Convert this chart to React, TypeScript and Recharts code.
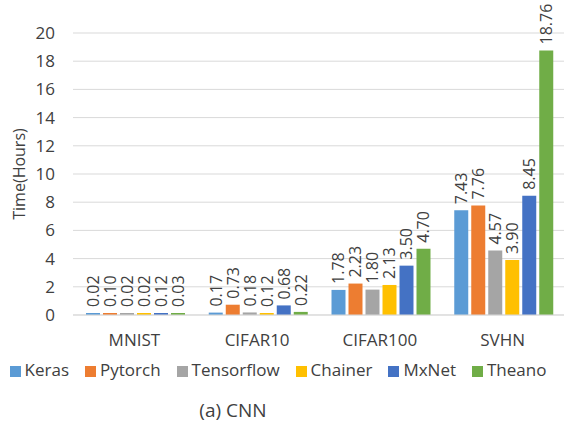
import { BarChart, Bar, XAxis, YAxis, CartesianGrid, Legend, LabelList } from "recharts"

const datasets = ["MNIST", "CIFAR10", "CIFAR100", "SVHN"]
const keras = [0.02, 0.17, 1.78, 7.43]
const pytorch = [0.1, 0.73, 2.23, 7.76]
const tensorflow = [0.02, 0.18, 1.8, 4.57]
const chainer = [0.02, 0.12, 2.13, 3.9]
const mxnet = [0.12, 0.68, 3.5, 8.45]
const theano = [0.03, 0.22, 4.7, 18.76]
const yTicks = [0, 2, 4, 6, 8, 10, 12, 14, 16, 18, 20]

const series = [
  { key: "Keras", values: keras, color: "#5B9BD5" },
  { key: "Pytorch", values: pytorch, color: "#ED7D31" },
  { key: "Tensorflow", values: tensorflow, color: "#A5A5A5" },
  { key: "Chainer", values: chainer, color: "#FFC000" },
  { key: "MxNet", values: mxnet, color: "#4472C4" },
  { key: "Theano", values: theano, color: "#70AD47" },
]

const data = datasets.map((name, i) => {
  const row: Record<string, string | number> = { name }
  series.forEach((s) => {
    row[s.key] = s.values[i]
  })
  return row
})

const textColor = "#404040"

const BarValue = (props: any) => {
  const { x, y, width, value } = props
  const cx = Number(x) + Number(width) / 2
  const cy = Number(y) - 6
  return (
    <text
      x={cx}
      y={cy}
      transform={`rotate(-90 ${cx} ${cy})`}
      textAnchor="start"
      dominantBaseline="central"
      fontSize={16}
      fill={textColor}
    >
      {Number(value).toFixed(2)}
    </text>
  )
}

const AxisTitle = (props: any) => {
  const { viewBox } = props
  const cx = viewBox.x + 19
  const cy = viewBox.y + viewBox.height / 2
  return (
    <text
      x={cx}
      y={cy}
      transform={`rotate(-90 ${cx} ${cy})`}
      textAnchor="middle"
      dominantBaseline="central"
      fontSize={16}
      fill={textColor}
    >
      Time(Hours)
    </text>
  )
}

const seriesOrder = (item: any) => series.findIndex((s) => s.key === item.value)

export default function App() {
  return (
    <div
      style={{
        position: "absolute",
        left: 0,
        top: 0,
        width: 564,
        height: 423,
        background: "#fff",
        fontFamily: "'Open Sans', sans-serif",
      }}
    >
      <BarChart
        width={564}
        height={423}
        data={data}
        margin={{ top: 33, right: 0, left: 0, bottom: 42 }}
        barCategoryGap={13}
        barGap={3}
      >
        <CartesianGrid vertical={false} stroke="#D9D9D9" />
        <XAxis
          dataKey="name"
          axisLine={{ stroke: "#D9D9D9" }}
          tickLine={false}
          tickSize={0}
          tickMargin={19}
          height={43}
          tick={{ fill: textColor, fontSize: 17 }}
        />
        <YAxis
          domain={[0, 20]}
          ticks={yTicks}
          width={73}
          axisLine={false}
          tickLine={false}
          tickSize={0}
          tickMargin={18}
          tick={{ fill: textColor, fontSize: 17 }}
          label={<AxisTitle />}
        />
        <Legend
          verticalAlign="bottom"
          iconType="square"
          iconSize={11}
          itemSorter={seriesOrder}
          wrapperStyle={{ fontSize: 17, paddingLeft: 4 }}
          formatter={(value) => <span style={{ color: textColor, marginRight: 6 }}>{value}</span>}
        />
        {series.map((s) => (
          <Bar key={s.key} dataKey={s.key} fill={s.color} minPointSize={2} isAnimationActive={false}>
            <LabelList dataKey={s.key} content={<BarValue />} />
          </Bar>
        ))}
      </BarChart>
      <div
        style={{
          position: "absolute",
          left: 0,
          width: 466,
          top: 400,
          textAlign: "center",
          fontSize: 19,
          color: textColor,
          lineHeight: "20px",
        }}
      >
        (a) CNN
      </div>
    </div>
  )
}
